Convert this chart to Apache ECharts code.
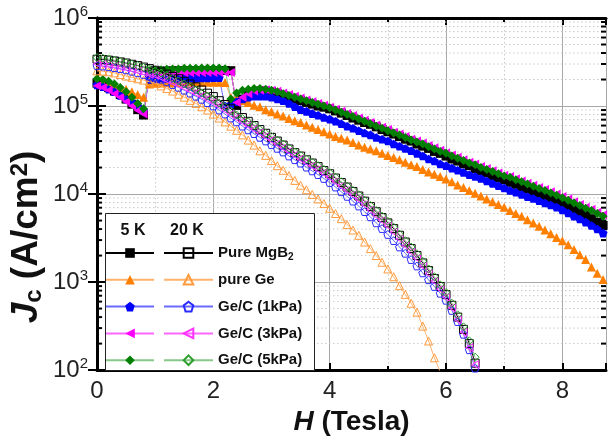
<!DOCTYPE html>
<html>
<head>
<meta charset="utf-8">
<script src="https://cdn.jsdelivr.net/npm/echarts@6/dist/echarts.min.js"></script>
<style>
  html, body { margin: 0; padding: 0; background: #fff; }
  #chart { width: 609px; height: 441px; }
</style>
</head>
<body>
<div id="chart"></div>
<script>
// field (Tesla)
var field5K = [0,0.1,0.2,0.3,0.4,0.5,0.6,0.7,0.8,0.9,1,1.1,1.2,1.3,1.4,1.5,1.6,1.7,1.8,1.9,
  2,2.1,2.2,2.3,2.4,2.5,2.6,2.7,2.8,2.9,3,3.1,3.2,3.3,3.4,3.5,3.6,3.7,3.8,3.9,
  4,4.1,4.2,4.3,4.4,4.5,4.6,4.7,4.8,4.9,5,5.1,5.2,5.3,5.4,5.5,5.6,5.7,5.8,5.9,
  6,6.1,6.2,6.3,6.4,6.5,6.6,6.7,6.8,6.9,7,7.1,7.2,7.3,7.4,7.5,7.6,7.7,7.8,7.9,
  8,8.1,8.2,8.3,8.4,8.5,8.6,8.7];
var field20K = [0,0.1,0.2,0.3,0.4,0.5,0.6,0.7,0.8,0.9,1,1.1,1.2,1.3,1.4,1.5,1.6,1.7,1.8,1.9,
  2,2.1,2.2,2.3,2.4,2.5,2.6,2.7,2.8,2.9,3,3.1,3.2,3.3,3.4,3.5,3.6,3.7,3.8,3.9,
  4,4.1,4.2,4.3,4.4,4.5,4.6,4.7,4.8,4.9,5,5.1,5.2,5.3,5.4,5.5,5.6,5.7,5.8,5.9,
  6,6.1,6.2,6.3,6.4,6.5];

// Jc (A/cm2) at 5 K
var jcMgB2_5K = [1.82e5,1.74e5,1.62e5,1.48e5,1.35e5,1.20e5,1.05e5,9.1e4,7.9e4,2.40e5,
  2.46e5,2.48e5,2.5e5,2.5e5,2.51e5,2.51e5,2.52e5,2.52e5,2.52e5,2.53e5,
  2.53e5,2.53e5,2.53e5,2.52e5,1.02e5,1.20e5,1.32e5,1.41e5,1.48e5,1.48e5,
  1.45e5,1.38e5,1.32e5,1.26e5,1.20e5,1.15e5,1.10e5,1.05e5,1.00e5,9.7e4,
  9.3e4,8.8e4,8.3e4,7.8e4,7.3e4,6.9e4,6.5e4,6.2e4,5.8e4,5.4e4,
  5.1e4,4.8e4,4.5e4,4.2e4,4.0e4,3.7e4,3.5e4,3.3e4,3.05e4,2.9e4,
  2.7e4,2.5e4,2.37e4,2.2e4,2.1e4,1.95e4,1.84e4,1.74e4,1.62e4,1.53e4,
  1.45e4,1.36e4,1.29e4,1.2e4,1.14e4,1.07e4,1.01e4,9.5e3,8.9e3,8.4e3,
  7.9e3,7.3e3,6.8e3,6.2e3,5.75e3,5.25e3,4.8e3,4.4e3];
var jcGe_5K = [1.86e5,1.82e5,1.78e5,1.70e5,1.62e5,1.55e5,1.45e5,1.35e5,1.26e5,1.78e5,
  1.82e5,1.83e5,1.84e5,1.84e5,1.85e5,1.85e5,1.86e5,1.86e5,1.86e5,1.86e5,
  1.86e5,1.86e5,1.85e5,1.26e5,1.23e5,1.15e5,1.10e5,1.02e5,9.8e4,9.1e4,
  8.6e4,8.1e4,7.7e4,7.2e4,6.8e4,6.5e4,6.1e4,5.75e4,5.4e4,5.1e4,
  4.8e4,4.5e4,4.3e4,4.1e4,3.85e4,3.6e4,3.4e4,3.25e4,3.1e4,2.9e4,
  2.75e4,2.6e4,2.45e4,2.3e4,2.15e4,2.05e4,1.9e4,1.78e4,1.68e4,1.58e4,
  1.48e4,1.38e4,1.27e4,1.19e4,1.1e4,1.02e4,9.5e3,8.8e3,8.2e3,7.6e3,
  7.1e3,6.5e3,6.0e3,5.6e3,5.1e3,4.7e3,4.3e3,3.9e3,3.55e3,3.2e3,
  2.95e3,2.65e3,2.35e3,2.05e3,1.8e3,1.48e3,1.26e3,1.07e3];
var jcGeC1_5K = [1.74e5,1.66e5,1.55e5,1.45e5,1.32e5,1.20e5,1.10e5,1.0e5,8.9e4,2.0e5,
  2.03e5,2.04e5,2.05e5,2.05e5,2.06e5,2.06e5,2.07e5,2.07e5,2.08e5,2.08e5,
  2.09e5,2.09e5,1.0e5,1.05e5,1.12e5,1.20e5,1.26e5,1.29e5,1.29e5,1.29e5,
  1.26e5,1.20e5,1.15e5,1.07e5,9.8e4,9.1e4,8.7e4,8.2e4,7.85e4,7.4e4,
  7.1e4,6.7e4,6.3e4,5.9e4,5.6e4,5.25e4,4.95e4,4.7e4,4.4e4,4.2e4,
  4.0e4,3.7e4,3.5e4,3.3e4,3.1e4,2.9e4,2.7e4,2.5e4,2.37e4,2.2e4,
  2.1e4,1.97e4,1.86e4,1.76e4,1.66e4,1.58e4,1.5e4,1.41e4,1.32e4,1.24e4,
  1.17e4,1.1e4,1.05e4,9.9e3,9.3e3,8.9e3,8.4e3,7.9e3,7.5e3,7.1e3,
  6.6e3,6.1e3,5.6e3,5.2e3,4.8e3,4.4e3,4.0e3,3.6e3];
var jcGeC3_5K = [1.70e5,1.62e5,1.51e5,1.38e5,1.26e5,1.12e5,1.00e5,8.9e4,8.1e4,2.29e5,
  2.34e5,2.36e5,2.37e5,2.38e5,2.38e5,2.39e5,2.39e5,2.4e5,2.4e5,2.4e5,
  2.41e5,2.41e5,2.41e5,2.4e5,1.10e5,1.26e5,1.38e5,1.48e5,1.51e5,1.53e5,
  1.51e5,1.47e5,1.41e5,1.35e5,1.29e5,1.23e5,1.17e5,1.12e5,1.07e5,1.02e5,
  9.7e4,9.2e4,8.7e4,8.2e4,7.8e4,7.3e4,6.9e4,6.5e4,6.1e4,5.75e4,
  5.4e4,5.05e4,4.8e4,4.5e4,4.2e4,4.0e4,3.8e4,3.55e4,3.35e4,3.15e4,
  2.95e4,2.78e4,2.62e4,2.46e4,2.3e4,2.2e4,2.05e4,1.95e4,1.84e4,1.74e4,
  1.64e4,1.58e4,1.49e4,1.41e4,1.33e4,1.26e4,1.19e4,1.13e4,1.06e4,1.0e4,
  9.4e3,8.8e3,8.2e3,7.6e3,7.1e3,6.7e3,6.2e3,5.8e3];
var jcGeC5_5K = [2.04e5,2.00e5,1.91e5,1.78e5,1.62e5,1.45e5,1.26e5,1.07e5,9.3e4,2.51e5,
  2.57e5,2.58e5,2.62e5,2.63e5,2.64e5,2.68e5,2.69e5,2.69e5,2.7e5,2.7e5,
  2.7e5,2.7e5,2.65e5,1.20e5,1.41e5,1.51e5,1.55e5,1.58e5,1.58e5,1.55e5,
  1.51e5,1.45e5,1.38e5,1.32e5,1.26e5,1.20e5,1.15e5,1.10e5,1.05e5,1.00e5,
  9.55e4,9.0e4,8.5e4,8.0e4,7.6e4,7.1e4,6.7e4,6.3e4,5.9e4,5.6e4,
  5.25e4,4.95e4,4.7e4,4.4e4,4.1e4,3.9e4,3.7e4,3.45e4,3.25e4,3.05e4,
  2.9e4,2.7e4,2.55e4,2.4e4,2.25e4,2.15e4,2.0e4,1.9e4,1.8e4,1.7e4,
  1.6e4,1.55e4,1.45e4,1.38e4,1.3e4,1.23e4,1.16e4,1.1e4,1.03e4,9.7e3,
  9.1e3,8.5e3,7.9e3,7.4e3,6.9e3,6.5e3,6.0e3,5.6e3];

// Jc (A/cm2) at 20 K
var jcMgB2_20K = [3.4e5,3.37e5,3.32e5,3.25e5,3.17e5,3.08e5,2.98e5,2.88e5,2.77e5,2.66e5,
  2.55e5,2.43e5,2.3e5,2.17e5,2.04e5,1.91e5,1.78e5,1.65e5,1.52e5,1.4e5,
  1.28e5,1.15e5,1.04e5,9.3e4,8.3e4,7.4e4,6.7e4,6.0e4,5.4e4,4.9e4,
  4.4e4,4.0e4,3.6e4,3.25e4,2.95e4,2.7e4,2.45e4,2.25e4,2.05e4,1.85e4,
  1.7e4,1.52e4,1.35e4,1.2e4,1.07e4,9.5e3,8.3e3,7.2e3,6.3e3,5.4e3,
  4.7e3,4.05e3,3.4e3,2.85e3,2.4e3,2.0e3,1.65e3,1.35e3,1.1e3,890,
  720,545,400,290,200,120];
var jcGe_20K = [2.51e5,2.49e5,2.45e5,2.38e5,2.28e5,2.19e5,2.12e5,2.04e5,1.97e5,1.89e5,
  1.82e5,1.69e5,1.58e5,1.48e5,1.36e5,1.26e5,1.16e5,1.07e5,9.8e4,9.0e4,
  8.1e4,7.3e4,6.6e4,5.9e4,5.3e4,4.7e4,4.1e4,3.6e4,3.1e4,2.75e4,
  2.4e4,2.1e4,1.86e4,1.62e4,1.43e4,1.26e4,1.12e4,9.9e3,8.8e3,7.8e3,
  6.9e3,6.0e3,5.25e3,4.5e3,3.9e3,3.4e3,2.85e3,2.4e3,2.0e3,1.68e3,
  1.41e3,1.15e3,910,725,575,455,316,214,138,95];
var jcGeC1_20K = [2.88e5,2.84e5,2.79e5,2.72e5,2.65e5,2.57e5,2.48e5,2.38e5,2.28e5,2.2e5,
  2.14e5,2.01e5,1.88e5,1.75e5,1.63e5,1.51e5,1.4e5,1.29e5,1.19e5,1.09e5,
  1.0e5,9.0e4,8.1e4,7.3e4,6.6e4,5.9e4,5.35e4,4.85e4,4.4e4,4.0e4,
  3.63e4,3.3e4,3.0e4,2.7e4,2.45e4,2.24e4,2.02e4,1.83e4,1.66e4,1.5e4,
  1.35e4,1.2e4,1.06e4,9.4e3,8.3e3,7.3e3,6.3e3,5.5e3,4.7e3,4.05e3,
  3.47e3,2.95e3,2.5e3,2.12e3,1.8e3,1.52e3,1.27e3,1.06e3,890,745,
  620,475,355,255,170,105];
var jcGeC3_20K = [3.02e5,2.98e5,2.92e5,2.85e5,2.77e5,2.69e5,2.6e5,2.5e5,2.4e5,2.3e5,
  2.24e5,2.11e5,1.98e5,1.86e5,1.74e5,1.62e5,1.51e5,1.4e5,1.3e5,1.2e5,
  1.1e5,1.0e5,9.0e4,8.1e4,7.3e4,6.6e4,6.0e4,5.45e4,4.95e4,4.5e4,
  4.1e4,3.7e4,3.35e4,3.05e4,2.75e4,2.5e4,2.28e4,2.08e4,1.9e4,1.72e4,
  1.55e4,1.38e4,1.23e4,1.1e4,9.8e3,8.7e3,7.6e3,6.6e3,5.7e3,5.0e3,
  4.35e3,3.7e3,3.1e3,2.6e3,2.2e3,1.86e3,1.52e3,1.25e3,1.02e3,830,
  675,510,375,270,180,115];
var jcGeC5_20K = [3.55e5,3.5e5,3.43e5,3.3e5,3.2e5,3.1e5,2.99e5,2.88e5,2.75e5,2.63e5,
  2.51e5,2.37e5,2.21e5,2.07e5,1.93e5,1.78e5,1.66e5,1.53e5,1.41e5,1.3e5,
  1.2e5,1.08e5,9.8e4,8.8e4,7.9e4,7.2e4,6.6e4,6.0e4,5.4e4,4.9e4,
  4.5e4,4.1e4,3.7e4,3.35e4,3.0e4,2.75e4,2.5e4,2.3e4,2.1e4,1.9e4,
  1.74e4,1.55e4,1.38e4,1.23e4,1.1e4,9.8e3,8.5e3,7.4e3,6.5e3,5.6e3,
  4.9e3,4.2e3,3.5e3,2.95e3,2.5e3,2.1e3,1.72e3,1.41e3,1.15e3,930,
  760,575,425,310,215,140];

// axis ticks
var xTicks = { min: 0, max: 8.75, interval: 2 };
var yDecades = { min: 1e2, max: 1e6 };
var yMinorTicks = [200,300,400,500,600,700,800,900,
  2000,3000,4000,5000,6000,7000,8000,9000,
  2e4,3e4,4e4,5e4,6e4,7e4,8e4,9e4,
  2e5,3e5,4e5,5e5,6e5,7e5,8e5,9e5];

var FONT = '"Liberation Sans", Arial, sans-serif';
var PENTAGON = 'path://M0,-10L9.51,-3.09L5.88,8.09L-5.88,8.09L-9.51,-3.09Z';
var TRI_LEFT = 'path://M0,5L9,0L9,10Z';

var samples = [
  { key: 'MgB2', label: 'Pure MgB{sub|2}', symbol: 'rect', dark: '#000000', edge: '#000000', line: '#000000', j5: jcMgB2_5K, j20: jcMgB2_20K },
  { key: 'Ge', label: 'pure Ge', symbol: 'triangle', dark: '#ff7f00', edge: '#ff9a3c', line: '#ffb26b', j5: jcGe_5K, j20: jcGe_20K },
  { key: '1kPa', label: 'Ge/C (1kPa)', symbol: PENTAGON, dark: '#0000ff', edge: '#2b2bff', line: '#6a6aff', j5: jcGeC1_5K, j20: jcGeC1_20K },
  { key: '3kPa', label: 'Ge/C (3kPa)', symbol: TRI_LEFT, dark: '#ff00ff', edge: '#ff33ff', line: '#ff66ff', j5: jcGeC3_5K, j20: jcGeC3_20K },
  { key: '5kPa', label: 'Ge/C (5kPa)', symbol: 'diamond', dark: '#007f00', edge: '#2e9e2e', line: '#88c888', j5: jcGeC5_5K, j20: jcGeC5_20K }
];

function pair(h, j) {
  var out = [];
  for (var i = 0; i < j.length; i++) out.push([h[i], j[i]]);
  return out;
}

var series = [];
var names5K = [], names20K = [], labels = {};
samples.forEach(function (s) {
  var n = s.key + ' 5K';
  names5K.push(n);
  series.push({
    name: n, type: 'line', data: pair(field5K, s.j5),
    symbol: s.symbol, symbolSize: 9, symbolKeepAspect: true, showAllSymbol: true,
    lineStyle: { color: s.line, width: 1 },
    itemStyle: { color: s.dark, borderColor: s.dark, borderWidth: 0 },
    emphasis: { disabled: true }, z: 2
  });
});
samples.forEach(function (s) {
  var n = s.key + ' 20K';
  names20K.push(n);
  labels[n] = s.label;
  series.push({
    name: n, type: 'line', data: pair(field20K, s.j20),
    symbol: s.symbol, symbolSize: 8, symbolKeepAspect: true, showAllSymbol: true,
    lineStyle: { color: s.line, width: 1 },
    itemStyle: { color: 'rgba(255,255,255,0)', borderColor: s.edge, borderWidth: 1 },
    emphasis: { disabled: true }, z: 3
  });
});

// minor log grid lines and ticks (2..9 x decade)
series.push({
  type: 'custom', silent: true, z: 1, clip: false,
  data: yMinorTicks.map(function (v) { return [xTicks.min, v]; }),
  encode: { x: 0, y: 1 },
  renderItem: function (params, api) {
    var a = api.coord([xTicks.min, api.value(1)]);
    var b = api.coord([xTicks.max, api.value(1)]);
    return { type: 'group', children: [
      { type: 'line', shape: { x1: a[0], y1: a[1], x2: b[0], y2: b[1] }, style: { stroke: '#c9c9c9', lineWidth: 1, lineDash: [1.5, 2.5] } },
      { type: 'line', shape: { x1: a[0], y1: a[1], x2: a[0] + 5, y2: a[1] }, style: { stroke: '#000', lineWidth: 2 } },
      { type: 'line', shape: { x1: b[0] - 5, y1: b[1], x2: b[0], y2: b[1] }, style: { stroke: '#000', lineWidth: 2 } }
    ] };
  }
});

var frameLine = { show: true, lineStyle: { color: '#000', width: 3 } };
var tickIn = { show: true, inside: true, length: 7, lineStyle: { color: '#000', width: 2 } };
var minorIn = { show: true, splitNumber: 2, length: 4, lineStyle: { color: '#000', width: 2 } };

var chart = echarts.init(document.getElementById('chart'));
chart.setOption({
  animation: false,
  textStyle: { fontFamily: FONT },
  grid: { left: 97, right: 3, top: 18, bottom: 61 },
  xAxis: [{
    type: 'value', min: xTicks.min, max: xTicks.max, interval: xTicks.interval,
    axisLine: frameLine, axisTick: tickIn, minorTick: minorIn,
    splitLine: { show: true, lineStyle: { color: '#a8a8a8', width: 1 } },
    minorSplitLine: { show: true, lineStyle: { color: '#c9c9c9', width: 1, type: [1.5, 2.5] } },
    axisLabel: { fontSize: 24, color: '#222', margin: 9, showMaxLabel: false, fontFamily: FONT },
    name: '{i|H} (Tesla)', nameLocation: 'middle', nameGap: 37,
    nameTextStyle: { fontSize: 28, fontWeight: 'bold', color: '#111', fontFamily: FONT,
      rich: { i: { fontSize: 28, fontWeight: 'bold', fontStyle: 'italic', color: '#111', fontFamily: FONT } } }
  }, {
    type: 'value', position: 'top', min: xTicks.min, max: xTicks.max, interval: xTicks.interval,
    axisLine: frameLine, axisTick: tickIn, minorTick: minorIn,
    axisLabel: { show: false }, splitLine: { show: false }
  }],
  yAxis: [{
    type: 'log', logBase: 10, min: yDecades.min, max: yDecades.max,
    axisLine: frameLine, axisTick: { show: true, inside: true, length: 9, lineStyle: { color: '#000', width: 2 } },
    splitLine: { show: true, lineStyle: { color: '#a8a8a8', width: 1 } },
    axisLabel: {
      margin: 9, color: '#222',
      formatter: function (v) { return '{b|10}{e|' + Math.round(Math.log10(v)) + '}'; },
      rich: {
        b: { fontSize: 24, color: '#222', fontFamily: FONT },
        e: { fontSize: 15, color: '#222', fontFamily: FONT, verticalAlign: 'top', padding: [0, 0, 12, 0] }
      }
    }
  }, {
    type: 'log', logBase: 10, position: 'right', min: yDecades.min, max: yDecades.max,
    axisLine: frameLine, axisTick: { show: true, inside: true, length: 9, lineStyle: { color: '#000', width: 2 } },
    axisLabel: { show: false }, splitLine: { show: false }
  }],
  legend: [{
    data: names5K, left: 105, top: 244, orient: 'vertical', padding: 0,
    itemWidth: 48, itemHeight: 12, itemGap: 8.8, selectedMode: false, z: 10,
    formatter: function () { return ' '; },
    textStyle: { fontSize: 15, lineHeight: 18 }
  }, {
    data: names20K, left: 163, top: 244, orient: 'vertical', padding: 0,
    itemWidth: 49, itemHeight: 12, itemGap: 8.8, selectedMode: false, z: 10,
    formatter: function (n) { return labels[n]; },
    textStyle: { fontSize: 15, lineHeight: 18, fontWeight: 'bold', color: '#111', fontFamily: FONT,
      rich: { sub: { fontSize: 10, fontWeight: 'bold', color: '#111', fontFamily: FONT, verticalAlign: 'bottom', lineHeight: 14 } } }
  }],
  graphic: [
    { type: 'rect', z: 8, shape: { x: 105.5, y: 213.5, width: 209, height: 157 },
      style: { fill: '#fff', stroke: '#222', lineWidth: 1 } },
    { type: 'text', z: 9, x: 133, y: 231,
      style: { text: '5 K', fontSize: 16, fontWeight: 'bold', fontFamily: FONT, fill: '#111', align: 'center', verticalAlign: 'middle' } },
    { type: 'text', z: 9, x: 187, y: 231,
      style: { text: '20 K', fontSize: 16, fontWeight: 'bold', fontFamily: FONT, fill: '#111', align: 'center', verticalAlign: 'middle' } },
    { type: 'text', z: 9, x: 27, y: 237, rotation: Math.PI / 2,
      style: { text: '{j|J}{c|c} (A/cm{s|2})', fontSize: 37, fontWeight: 'bold', fontFamily: FONT, fill: '#111',
        align: 'center', verticalAlign: 'middle',
        rich: {
          j: { fontSize: 37, fontWeight: 'bold', fontStyle: 'italic', fontFamily: FONT, fill: '#111' },
          c: { fontSize: 24, fontWeight: 'bold', fontFamily: FONT, fill: '#111', verticalAlign: 'bottom', padding: [12, 0, 0, 0] },
          s: { fontSize: 24, fontWeight: 'bold', fontFamily: FONT, fill: '#111', verticalAlign: 'top', padding: [0, 0, 14, 0] }
        } } }
  ],
  series: series
});
</script>
</body>
</html>
